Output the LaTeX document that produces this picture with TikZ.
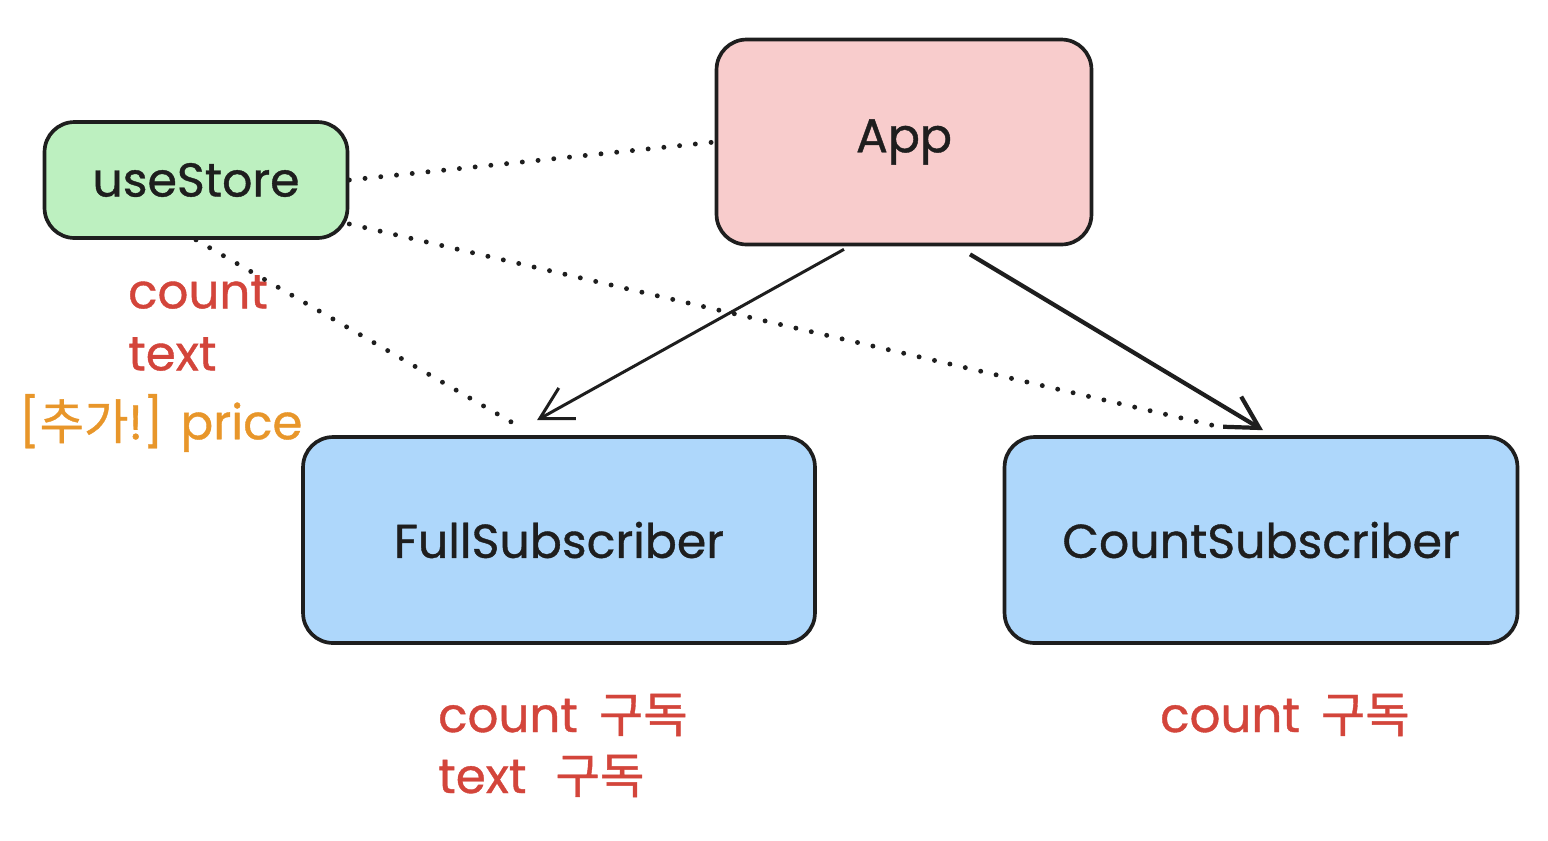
\documentclass[tikz,border=0pt]{standalone}
\usepackage{fontspec}
\setmainfont{Poppins}[FakeBold=0.8]
\newfontfamily\kor{Noto Sans CJK KR}[FakeBold=0.8]
\usepackage{tikz}
\usetikzlibrary{arrows.meta,positioning,calc}
\definecolor{storegreen}{HTML}{BDF0C0}
\definecolor{apppink}{HTML}{F8CCCC}
\definecolor{subblue}{HTML}{AED7FB}
\definecolor{notered}{HTML}{D3453B}
\definecolor{noteorange}{HTML}{E8962A}
\definecolor{ink}{HTML}{1E1E1E}

\begin{document}
\begin{tikzpicture}[
  x=0.02cm, y=-0.02cm,
  comp/.style={draw=ink, line width=2.1pt, rounded corners=0.6cm, fill=#1,
    font=\fontsize{27}{32}\selectfont, text=ink},
  note/.style={anchor=west, font=\fontsize{27.5}{32}\selectfont, text=#1},
  link/.style={ink, line width=2.8pt, line cap=round,
    dash pattern=on 0pt off 9pt},
  arrow/.style={-{Straight Barb[length=18pt,width=20pt]}, ink, line width=1.7pt}
]
  \useasboundingbox (0,0) rectangle (1548,840);

  \node[comp=apppink, minimum width=7.5cm, minimum height=4.1cm]
    (app) at (904,142) {App};
  \node[comp=storegreen, minimum width=6.06cm, minimum height=2.32cm]
    (store) at (196,180) {useStore};
  \node[comp=subblue, minimum width=10.24cm, minimum height=4.12cm]
    (full) at (559,540) {FullSubscriber};
  \node[comp=subblue, minimum width=10.26cm, minimum height=4.12cm]
    (count) at (1261,540) {CountSubscriber};

  % store fields
  \node[note=notered]    (fcount) at (122,292) {count};
  \node[note=notered]    (ftext)  at (122,354) {text};
  \node[note=noteorange] (fprice) at (13,423)  {[{\kor 추가}!] price};

  % subscriptions
  \node[note=notered] (subcount) at (432,715) {count\, {\kor 구독}};
  \node[note=notered] (subtext)  at (432,776) {text\,\, {\kor 구독}};
  \node[note=notered] (subonly)  at (1154,715) {count\, {\kor 구독}};

  % dotted store links
  \coordinate (fulltop)  at ($(full.north)+(-37,-7)$);
  \coordinate (counttop) at ($(count.north)+(-36,-7)$);
  \draw[link] (store.east) -- (app.west);
  \draw[link] (store.-16.5) -- (counttop);
  \draw[link] (store.south) -- (fulltop);

  % render flow
  \draw[arrow] ($(app.south)+(-60,3)$) -- ($(full.north)+(-22,-15)$);
  \draw[arrow, line width=2.4pt] ($(app.south)+(66,8)$) -- ($(count.north)+(2,-5)$);
\end{tikzpicture}
\end{document}
